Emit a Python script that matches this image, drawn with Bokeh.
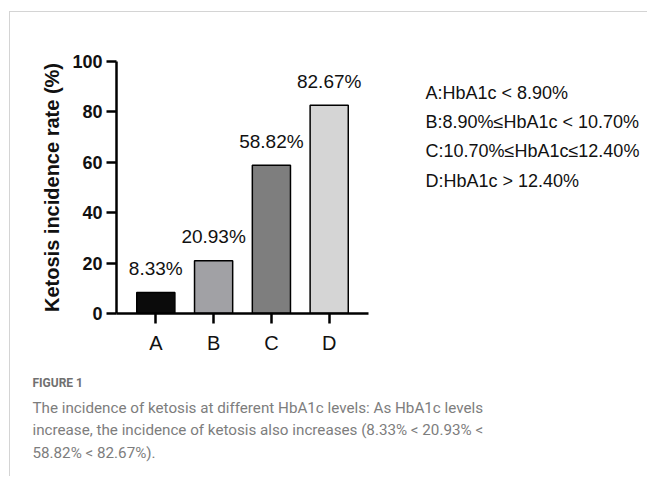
from bokeh.plotting import figure
from bokeh.layouts import column, row
from bokeh.models import FactorRange, Range1d, FixedTicker
from bokeh.core.properties import value
from bokeh.embed import file_html
from bokeh.resources import INLINE

categories = ["A", "B", "C", "D"]
rates = [8.33, 20.93, 58.82, 82.67]
rate_labels = ["8.33%", "20.93%", "58.82%", "82.67%"]
bar_colors = ["#0b0b0b", "#a1a1a5", "#7e7e7e", "#d5d5d5"]
y_ticks = [0, 20, 40, 60, 80, 100]
legend_lines = [
    "A:HbA1c < 8.90%",
    "B:8.90%≤HbA1c < 10.70%",
    "C:10.70%≤HbA1c≤12.40%",
    "D:HbA1c > 12.40%",
]
caption_title = ["FIGURE 1"]
caption_lines = [
    "The incidence of ketosis at different HbA1c levels: As HbA1c levels",
    "increase, the incidence of ketosis also increases (8.33% < 20.93% <",
    "58.82% < 82.67%).",
]

OX, OY = 10, 12          # page position of the chart canvas
CW, CH = 400, 348        # chart canvas size
LW = 237                 # legend panel width
CAPH = 116               # caption panel height
FL, FT, FB, FR = 116 - OX, 61 - OY, 313 - OY, 368 - OX

chart = figure(
    x_range=FactorRange(factors=categories, range_padding=0.09),
    y_range=Range1d(0, 100),
    width=CW, height=CH,
    output_backend="svg", toolbar_location=None,
    min_border_left=FL, min_border_top=FT,
    min_border_bottom=CH - FB, min_border_right=CW - FR,
)
chart.vbar(x=categories, top=rates, width=0.66, fill_color=bar_colors,
           line_color="black", line_width=1.5)
chart.text(x=categories, y=rates, text=rate_labels, y_offset=-24,
           text_align="center", text_baseline="middle",
           text_font=value("Liberation Sans"), text_font_size="19px", text_color="#111111")
chart.grid.visible = False
chart.outline_line_color = None

ya = chart.yaxis[0]
ya.ticker = FixedTicker(ticks=y_ticks)
ya.axis_label = "Ketosis incidence rate (%)"
ya.axis_label_text_font = "Liberation Sans"
ya.axis_label_text_font_style = "bold"
ya.axis_label_text_font_size = "20px"
ya.axis_label_text_color = "#111111"
ya.axis_label_standoff = 6
ya.major_label_text_font = "Liberation Sans"
ya.major_label_text_font_style = "bold"
ya.major_label_text_font_size = "18px"
ya.major_label_text_color = "#111111"
ya.major_label_standoff = 4
ya.axis_line_width = 2.5
ya.major_tick_line_width = 2.5
ya.major_tick_out = 10
ya.major_tick_in = 0
ya.minor_tick_line_color = None

xa = chart.xaxis[0]
xa.major_label_text_font = "Liberation Sans"
xa.major_label_text_font_size = "20px"
xa.major_label_text_color = "#111111"
xa.major_label_standoff = 8
xa.axis_line_width = 2.5
xa.major_tick_line_width = 2.5
xa.major_tick_out = 10
xa.major_tick_in = 0


def text_panel(w, h):
    f = figure(width=w, height=h, x_range=Range1d(0, w), y_range=Range1d(h, 0),
               output_backend="svg", toolbar_location=None, min_border=0)
    f.axis.visible = False
    f.grid.visible = False
    f.outline_line_color = None
    return f


legend = text_panel(LW, CH)
legend_x = [425 - OX - CW] * len(legend_lines)
legend_y = [55 - OY + 40.5 * i for i in range(len(legend_lines))]
legend.text(x=legend_x, y=legend_y, text=legend_lines, text_baseline="middle",
            text_font=value("Liberation Sans"), text_font_size="18px", text_color="#111111")

cap = text_panel(CW + LW, CAPH)
cap_top = OY + CH
cap.text(x=[32 - OX], y=[382 - cap_top], text=caption_title, text_baseline="middle",
         text_font=value("Roboto"), text_font_style="bold", text_font_size="12px",
         text_color="#707070")
cap.text(x=[32 - OX] * len(caption_lines),
         y=[407 - cap_top + 22.5 * i for i in range(len(caption_lines))],
         text=caption_lines, text_baseline="middle",
         text_font=value("Roboto"), text_font_size="15.2px", text_color="#7d7d7d")

layout = column(row(chart, legend), cap)
layout.styles = {"border-top": "1px solid #d4d4d4", "border-left": "1px solid #d4d4d4",
                 "margin-top": "11px", "margin-left": "9px"}

open("out.html", "w").write(file_html(layout, INLINE))
